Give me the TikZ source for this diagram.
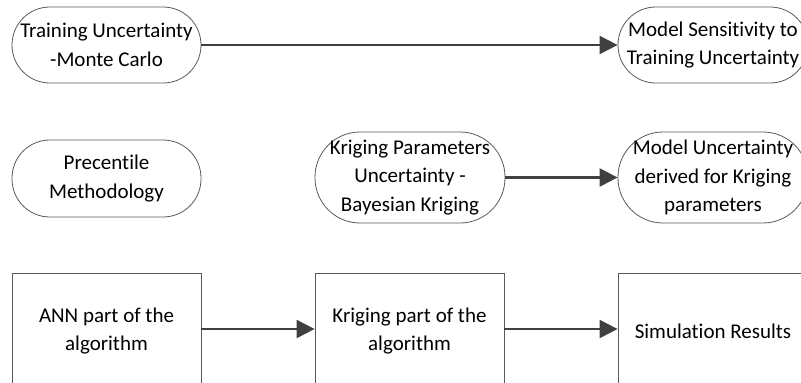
\documentclass[tikz,border=0pt]{standalone}
\usepackage{fontspec}
\setmainfont[Ligatures=NoCommon]{Carlito}
\usetikzlibrary{arrows.meta,positioning}

\begin{document}
\begin{tikzpicture}[
  x=1pt, y=-1pt,
  pill/.style={rectangle, draw=black!65, line width=0.8pt, rounded corners=37.9pt, align=center, inner sep=0pt, minimum width=189pt, minimum height=76pt, font=\fontsize{21}{28.5}\selectfont},
  bigpill/.style={pill, rounded corners=45pt, minimum height=91pt},
  block/.style={rectangle, draw=black!65, line width=0.8pt, align=center, inner sep=0pt, minimum width=189pt, minimum height=116pt, font=\fontsize{21}{28.5}\selectfont},
  arrow/.style={-{Triangle[length=18pt, width=18pt]}, line width=2.2pt, draw=black!75, fill=black!75},
]
\useasboundingbox (0,0) rectangle (801,383);

% === Training uncertainty ===
\node[pill] (trainunc) at (106.5, 45) {Training Uncertainty\\-Monte Carlo};
\node[pill, minimum width=190pt] (modelsens) at (713, 45) {Model Sensitivity to\\Training Uncertainty};

% === Kriging parameters ===
\node[pill, minimum height=77pt] (precentile) at (106.5, 178.5) {Precentile\\Methodology};
\node[bigpill, minimum width=190pt] (krigpar) at (410, 177.5) {Kriging Parameters\\Uncertainty -\\Bayesian Kriging};
\node[bigpill, minimum width=190pt] (modelunc) at (713, 177.5) {Model Uncertainty\\derived for Kriging\\parameters};

% === Algorithm ===
\node[block] (ann) at (106.5, 331) {ANN part of the\\algorithm};
\node[block] (kriging) at (409.5, 331) {Kriging part of the\\algorithm};
\node[block, minimum width=190pt] (simres) at (713, 331) {Simulation Results};

\draw[arrow] (trainunc) -- (modelsens);
\draw[arrow] (krigpar) -- (modelunc);
\draw[arrow] (ann.east |- 0,329) -- (kriging.west |- 0,329);
\draw[arrow] (kriging.east |- 0,329) -- (simres.west |- 0,329);

\end{tikzpicture}
\end{document}
